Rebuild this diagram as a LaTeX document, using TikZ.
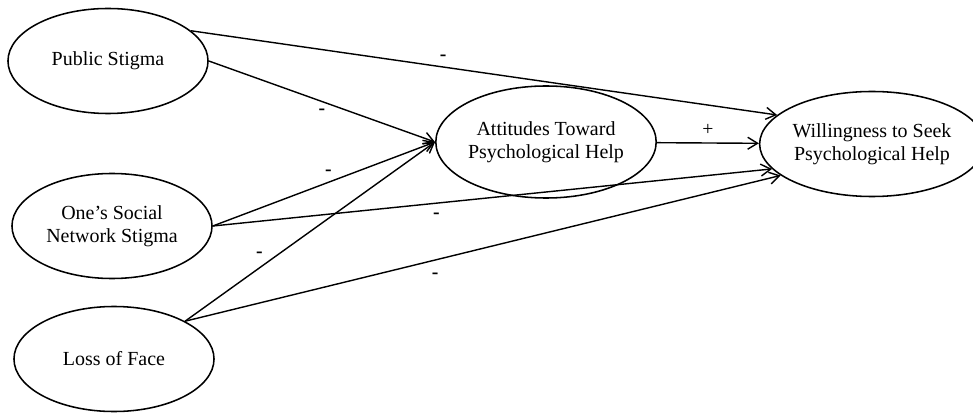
\documentclass[tikz,border=0pt]{standalone}
\usepackage{fontspec}
\setmainfont{Liberation Serif}
\usetikzlibrary{arrows.meta,shapes.geometric}

\begin{document}
\begin{tikzpicture}[x=0.025cm,y=-0.025cm,
 construct/.style={ellipse,draw,line width=1.1pt,inner sep=0pt,minimum width=5cm,minimum height=2.625cm,align=center,font=\fontsize{14.2}{16.3}\selectfont},
 effect/.style={line width=1pt,-{Straight Barb[length=7pt,width=8.5pt]}},
 sign/.style={font=\fontsize{14}{16}\selectfont\bfseries,inner sep=1pt}]
\useasboundingbox (0,0) rectangle (973,413);
\node[construct] (ps) at (108,61) {Public Stigma};
\node[construct] (sn) at (112,226) {One’s Social\\Network Stigma};
\node[construct] (lf) at (114,359) {Loss of Face};
\node[construct,minimum height=2.8cm] (att) at (546,142) {Attitudes Toward\\Psychological Help};
\node[construct] (will) at (872,144) {Willingness to Seek\\Psychological Help};
\draw[effect] (ps.20) -- node[sign,pos=.43,above=3pt] {-} (will.163);
\draw[effect] (ps.east) -- node[sign,pos=.5,below=4pt] {-} (att.west);
\draw[effect] (sn.east) -- node[sign,pos=.52,above=3pt] {-} (att.west);
\draw[effect] (sn.east) -- node[sign,pos=.4,below=5.4pt] {-} (will.194);
\draw[effect] (lf.28) -- node[sign,pos=.33,above left=2pt] {-} (att.west);
\draw[effect] (lf.28) -- node[sign,pos=.42,below=8pt] {-} (will.199);
\draw[effect] (att) -- node[sign,font=\fontsize{14}{16}\selectfont,above=4pt] {+} (will);
\end{tikzpicture}
\end{document}
